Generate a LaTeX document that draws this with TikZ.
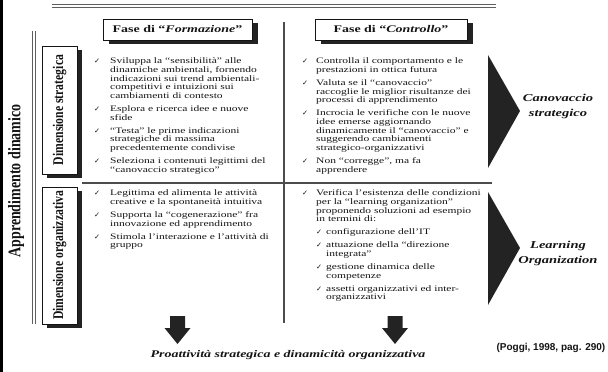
\documentclass[tikz,border=0pt]{standalone}
\usepackage{fontspec}
\setmainfont{Liberation Serif}[FakeStretch=1.37]
\newfontfamily\rotfont{Liberation Serif}[FakeStretch=0.79]
\newfontfamily\chkfont{DejaVu Sans}
\newfontfamily\srcfont{Liberation Sans}
\usetikzlibrary{shadows}

\newcommand{\bodysize}{\fontsize{8.4}{8.7}\selectfont}
\newcommand{\tick}{{\chkfont\fontsize{7.2}{7.2}\selectfont ✓}}
\newcommand{\ckl}{\makebox[16pt][l]{\tick}}
\newcommand{\ckr}{\makebox[14pt][l]{\tick}}
\newcommand{\cks}{\makebox[10pt][l]{\tick}}
\newcommand{\gap}{\\[4.3pt]}

\begin{document}
\begin{tikzpicture}[x=1pt,y=-1pt,
	titlebox/.style={draw=INK, line width=0.9pt, fill=white, minimum height=21pt, inner sep=0pt,
		font=\fontsize{10.2}{11}\selectfont\bfseries, text=INK,
		drop shadow={shadow xshift=6pt, shadow yshift=-4pt, fill=SHADE, opacity=1}},
	dimbox/.style={draw=INK, line width=0.9pt, fill=white, minimum width=35pt, inner sep=0pt,
		drop shadow={shadow xshift=5pt, shadow yshift=-4pt, fill=SHADE, opacity=1}},
	dimlabel/.style={rotate=90, inner sep=0pt, text=INK, font=\rotfont\bfseries\fontsize{14.8}{14.8}\selectfont},
	bodytext/.style={anchor=north west, inner sep=0pt, text=INK, font=\bodysize},
	outcome/.style={align=center, inner sep=0pt, text=INK, font=\fontsize{10.6}{15}\selectfont\bfseries\itshape},
	rule/.style={GREY, line width=1.2pt},
	bigarrow/.style={fill=SHADE}]
	\definecolor{INK}{RGB}{20,20,20}
	\definecolor{SHADE}{RGB}{35,35,35}
	\definecolor{GREY}{RGB}{95,95,95}
	\useasboundingbox (0,0) rectangle (608,372);

	% frame and rules
	\draw[black, line width=3.4pt] (1.7,0) -- (1.7,372);
	\draw[rule] (52,4.3) -- (496,4.3);
	\draw[rule] (52,7.6) -- (496,7.6);
	\draw[rule] (32.3,31) -- (32.3,324);
	\draw[rule] (35.8,31) -- (35.8,324);
	\draw[rule, GREY!80!black] (284,22) -- (284,323);
	\draw[rule, GREY!80!black] (82,183) -- (492,183);

	% phase titles
	\node[titlebox, minimum width=149pt] (formazione) at (177.5,29.5) {Fase di “\textit{Formazione}”};
	\node[titlebox, minimum width=152pt] (controllo) at (391,29.5) {Fase di “\textit{Controllo}”};

	% dimensions
	\node[rotate=90, inner sep=0pt, text=INK, font=\rotfont\bfseries\fontsize{17.7}{17.7}\selectfont]
		(appr) at (16,181) {Apprendimento dinamico};
	\node[dimbox, minimum height=128pt] (strat) at (59.5,110) {};
	\node[dimlabel] (strat-lbl) at (strat.center) {Dimensione strategica};
	\node[dimbox, minimum height=137pt] (org) at (59.5,255.5) {};
	\node[dimlabel] (org-lbl) at (org.center) {Dimensione organizzativa};

	% bullet texts
	\node[bodytext] (form-strat) at (94,57.4) {\begin{tabular}{@{}l@{}l@{}}
		\ckl & Sviluppa la “sensibilità” alle\\
		& dinamiche ambientali, fornendo\\
		& indicazioni sui trend ambientali-\\
		& competitivi e intuizioni sui\\
		& cambiamenti di contesto\gap
		\ckl & Esplora e ricerca idee e nuove\\
		& sfide\gap
		\ckl & “Testa” le prime indicazioni\\
		& strategiche di massima\\
		& precedentemente condivise\gap
		\ckl & Seleziona i contenuti legittimi del\\
		& “canovaccio strategico”
	\end{tabular}};
	\node[bodytext] (contr-strat) at (302,57.4) {\begin{tabular}{@{}l@{}l@{}}
		\ckr & Controlla il comportamento e le\\
		& prestazioni in ottica futura\gap
		\ckr & Valuta se il “canovaccio”\\
		& raccoglie le miglior risultanze dei\\
		& processi di apprendimento\gap
		\ckr & Incrocia le verifiche con le nuove\\
		& idee emerse aggiornando\\
		& dinamicamente il “canovaccio” e\\
		& suggerendo cambiamenti\\
		& strategico-organizzativi\gap
		\ckr & Non “corregge”, ma fa\\
		& apprendere
	\end{tabular}};
	\node[bodytext] (form-org) at (94,189.4) {\begin{tabular}{@{}l@{}l@{}}
		\ckl & Legittima ed alimenta le attività\\
		& creative e la spontaneità intuitiva\gap
		\ckl & Supporta la “cogenerazione” fra\\
		& innovazione ed apprendimento\gap
		\ckl & Stimola l’interazione e l’attività di\\
		& gruppo
	\end{tabular}};
	\node[bodytext] (contr-org) at (302,189.4) {\begin{tabular}{@{}l@{}l@{}}
		\ckr & Verifica l’esistenza delle condizioni\\
		& per la “learning organization”\\
		& proponendo soluzioni ad esempio\\
		& in termini di:\gap
		& \cks configurazione dell’IT\gap
		& \cks attuazione della “direzione\\
		& \hspace{10pt}integrata”\gap
		& \cks gestione dinamica delle\\
		& \hspace{10pt}competenze\gap
		& \cks assetti organizzativi ed inter-\\
		& \hspace{10pt}organizzativi
	\end{tabular}};

	% outcomes
	\fill[bigarrow] (488,55) -- (520,111) -- (488,168) -- cycle;
	\fill[bigarrow] (488,192) -- (520,248) -- (488,305) -- cycle;
	\node[outcome] (canovaccio) at (558,106) {Canovaccio\\strategico};
	\node[outcome] (learning) at (558,253) {Learning\\Organization};
	\foreach \x in {177.5,395}
		\fill[bigarrow] (\x-7.5,316) -- (\x+7.5,316) -- (\x+7.5,328) -- (\x+13,328)
			-- (\x,344) -- (\x-13,328) -- (\x-7.5,328) -- cycle;
	\node[outcome, font=\fontsize{10.2}{13}\selectfont\bfseries\itshape] (proatt) at (288,355)
		{Proattività strategica e dinamicità organizzativa};
	\node[anchor=east, inner sep=0pt, text=INK, font=\srcfont\bfseries\fontsize{10}{12}\selectfont]
		(source) at (605.5,348) {(Poggi, 1998, pag. 290)};
\end{tikzpicture}
\end{document}
